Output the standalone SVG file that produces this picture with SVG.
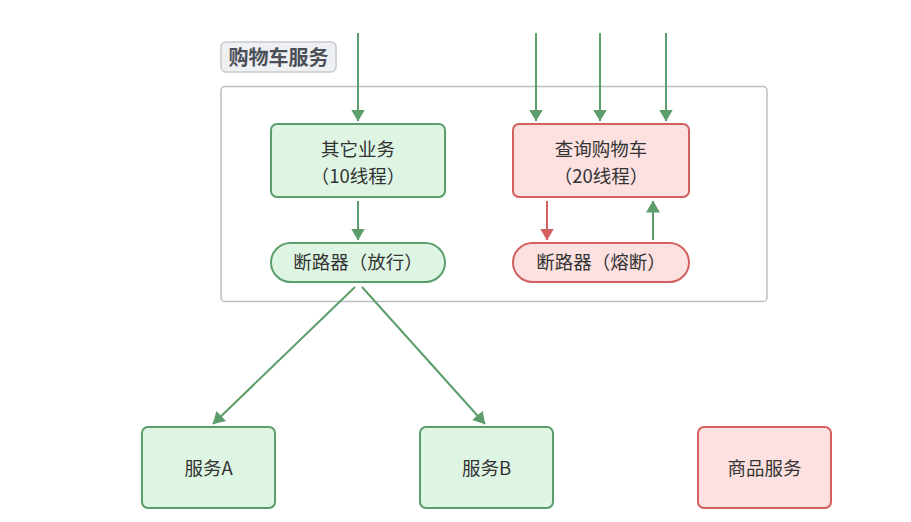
<svg xmlns="http://www.w3.org/2000/svg" width="911" height="522" viewBox="0 0 911 522">
<defs>
<marker id="ag" viewBox="0 0 12 14" refX="11.5" refY="7" markerWidth="12" markerHeight="14" markerUnits="userSpaceOnUse" orient="auto"><path d="M0,0 L12,7 L0,14 z" fill="#5c9d6c"/></marker>
<marker id="ar" viewBox="0 0 12 14" refX="11.5" refY="7" markerWidth="12" markerHeight="14" markerUnits="userSpaceOnUse" orient="auto"><path d="M0,0 L12,7 L0,14 z" fill="#d3605f"/></marker>
<style>
.g{fill:#def5e4;stroke:#5c9d6c;stroke-width:2}
.r{fill:#fde1e1;stroke:#d3605f;stroke-width:2}
.t{font-family:"Noto Sans CJK SC","Noto Sans",sans-serif;font-size:18.5px;fill:#333;text-anchor:middle}
.cg{stroke:#5c9d6c;stroke-width:2;fill:none}
.cr{stroke:#d3605f;stroke-width:2;fill:none}
</style>
</defs>
<rect width="911" height="522" fill="#fff"/>
<g id="container">
<rect x="221" y="86.5" width="546" height="215" rx="4" fill="none" stroke="#bdbfc4" stroke-width="1.5"/>
<rect x="221" y="42" width="115" height="30" rx="5" fill="#eef0f2" stroke="#c6c9ce" stroke-width="1.5"/>
<text x="278.5" y="64.5" font-family="'Noto Sans CJK SC',sans-serif" font-size="20" font-weight="bold" fill="#4b5058" text-anchor="middle">购物车服务</text>
</g>
<g id="connectors">
<line class="cg" x1="358" y1="33" x2="358" y2="121" marker-end="url(#ag)"/>
<line class="cg" x1="536" y1="33" x2="536" y2="121" marker-end="url(#ag)"/>
<line class="cg" x1="600" y1="33" x2="600" y2="121" marker-end="url(#ag)"/>
<line class="cg" x1="666" y1="33" x2="666" y2="121" marker-end="url(#ag)"/>
<line class="cg" x1="358" y1="201" x2="358" y2="240" marker-end="url(#ag)"/>
<line class="cr" x1="547" y1="201" x2="547" y2="240" marker-end="url(#ar)"/>
<line class="cg" x1="653" y1="240" x2="653" y2="201" marker-end="url(#ag)"/>
<line class="cg" x1="355" y1="287" x2="213" y2="424" marker-end="url(#ag)"/>
<line class="cg" x1="362" y1="287" x2="485" y2="424" marker-end="url(#ag)"/>
</g>
<g id="other">
<rect class="g" x="271" y="124" width="174" height="73" rx="6"/>
<text class="t" x="358" y="155.5">其它业务</text>
<text class="t" x="358" y="183">（10线程）</text>
</g>
<g id="cart">
<rect class="r" x="513" y="124" width="176" height="73" rx="6"/>
<text class="t" x="601" y="155.5">查询购物车</text>
<text class="t" x="601" y="183">（20线程）</text>
</g>
<g id="breaker-open">
<rect class="g" x="271" y="243" width="174" height="39" rx="19.5"/>
<text class="t" x="358" y="269">断路器（放行）</text>
</g>
<g id="breaker-fuse">
<rect class="r" x="513" y="243" width="176" height="39" rx="19.5"/>
<text class="t" x="601" y="269">断路器（熔断）</text>
</g>
<g id="svcA">
<rect class="g" x="142" y="427" width="133" height="81" rx="6"/>
<text class="t" x="208.5" y="474.5">服务A</text>
</g>
<g id="svcB">
<rect class="g" x="420" y="427" width="133" height="81" rx="6"/>
<text class="t" x="486.5" y="474.5">服务B</text>
</g>
<g id="goods">
<rect class="r" x="698" y="427" width="133" height="81" rx="6"/>
<text class="t" x="764.5" y="474.5">商品服务</text>
</g>
</svg>
